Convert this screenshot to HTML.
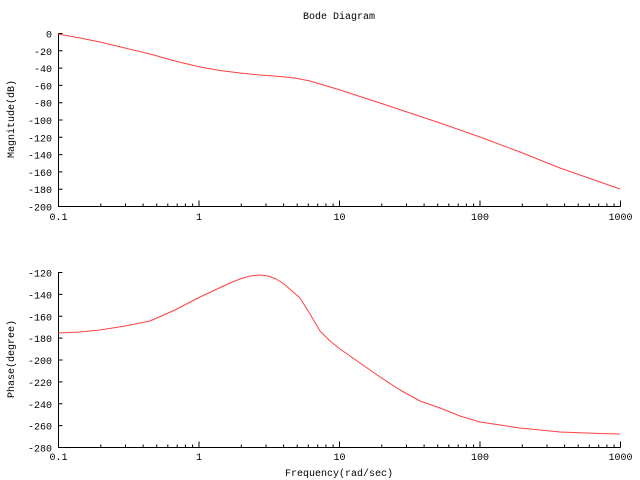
<!DOCTYPE html>
<html><head><meta charset="utf-8"><style>
html,body{margin:0;padding:0;background:#fff;}
svg{display:block;font-family:"Liberation Mono",monospace;font-size:10px;}
</style></head><body>
<svg width="640" height="480" viewBox="0 0 640 480" xmlns="http://www.w3.org/2000/svg">
<defs>
<path id="dec" d="M0 0v-6M42.3 0v-3M67 0v-3M84.6 0v-3M98.2 0v-3M109.3 0v-3M118.7 0v-3M126.9 0v-3M134.1 0v-3" stroke="#000" fill="none"/>
</defs>
<rect width="640" height="480" fill="#fff"/>
<text x="339" y="19" text-anchor="middle">Bode Diagram</text>
<path d="M58.5 33V206.5H620.5" stroke="#000" fill="none"/>
<path d="M58.5 272V447.5H620.5" stroke="#000" fill="none"/>
<g transform="translate(58.5,206.5)">
<use href="#dec" x="0"/><use href="#dec" x="140.5"/><use href="#dec" x="281"/><use href="#dec" x="421.5"/>
<path d="M562 0v-6" stroke="#000"/>
</g>
<g transform="translate(58.5,447.5)">
<use href="#dec" x="0"/><use href="#dec" x="140.5"/><use href="#dec" x="281"/><use href="#dec" x="421.5"/>
<path d="M562 0v-6" stroke="#000"/>
</g>
<g text-anchor="middle">
<text x="58.5" y="220">0.1</text><text x="199" y="220">1</text><text x="339.5" y="220">10</text><text x="480" y="220">100</text><text x="620.5" y="220">1000</text>
<text x="58.5" y="460">0.1</text><text x="199" y="460">1</text><text x="339.5" y="460">10</text><text x="480" y="460">100</text><text x="620.5" y="460">1000</text>
</g>
<path stroke="#000" fill="none" d="M58.5 33.5h4M58.5 50.8h4M58.5 68.1h4M58.5 85.4h4M58.5 102.7h4M58.5 120h4M58.5 137.3h4M58.5 154.6h4M58.5 171.9h4M58.5 189.2h4M58.5 206.5h4
M58.5 272.5h4M58.5 294.4h4M58.5 316.3h4M58.5 338.1h4M58.5 360h4M58.5 381.9h4M58.5 403.8h4M58.5 425.6h4M58.5 447.5h4"/>
<g text-anchor="end">
<text x="52" y="37.5">0</text><text x="52" y="54.8">-20</text><text x="52" y="72.1">-40</text><text x="52" y="89.4">-60</text><text x="52" y="106.7">-80</text><text x="52" y="124">-100</text><text x="52" y="141.3">-120</text><text x="52" y="158.6">-140</text><text x="52" y="175.9">-160</text><text x="52" y="193.2">-180</text><text x="52" y="210.5">-200</text>
<text x="52" y="276.5">-120</text><text x="52" y="298.4">-140</text><text x="52" y="320.3">-160</text><text x="52" y="342.1">-180</text><text x="52" y="364">-200</text><text x="52" y="385.9">-220</text><text x="52" y="407.8">-240</text><text x="52" y="429.6">-260</text><text x="52" y="451.5">-280</text>
</g>
<text transform="translate(14,119) rotate(-90)" text-anchor="middle">Magnitude(dB)</text>
<text transform="translate(14,359) rotate(-90)" text-anchor="middle">Phase(degree)</text>
<text x="339" y="476" text-anchor="middle">Frequency(rad/sec)</text>
<polyline fill="none" stroke="#ff4040" stroke-width="1" stroke-linejoin="round" points="58,34 80,38 100,42 125,48 150,54 175,61 200,67 220,70.5 240,73 260,75 280,76.5 295,78 310,81 325,85.5 340,90 360,96.5 380,103 410,113 440,123 480,137 520,152 560,168 600,182 620,189"/>
<polyline fill="none" stroke="#ff4040" stroke-width="1" stroke-linejoin="round" points="58,333 80,332 100,330 125,326 150,321 175,310 200,297 215,290 230,283 240,279 250,276 260,275 268,276 276,279 284,284 292,291 300,298 310,314 320,331 330,341 340,349 360,363 380,377 400,390 420,401 440,408 460,416 480,422 500,425 520,428 560,432 600,433.5 620,434"/>
</svg>
</body></html>
